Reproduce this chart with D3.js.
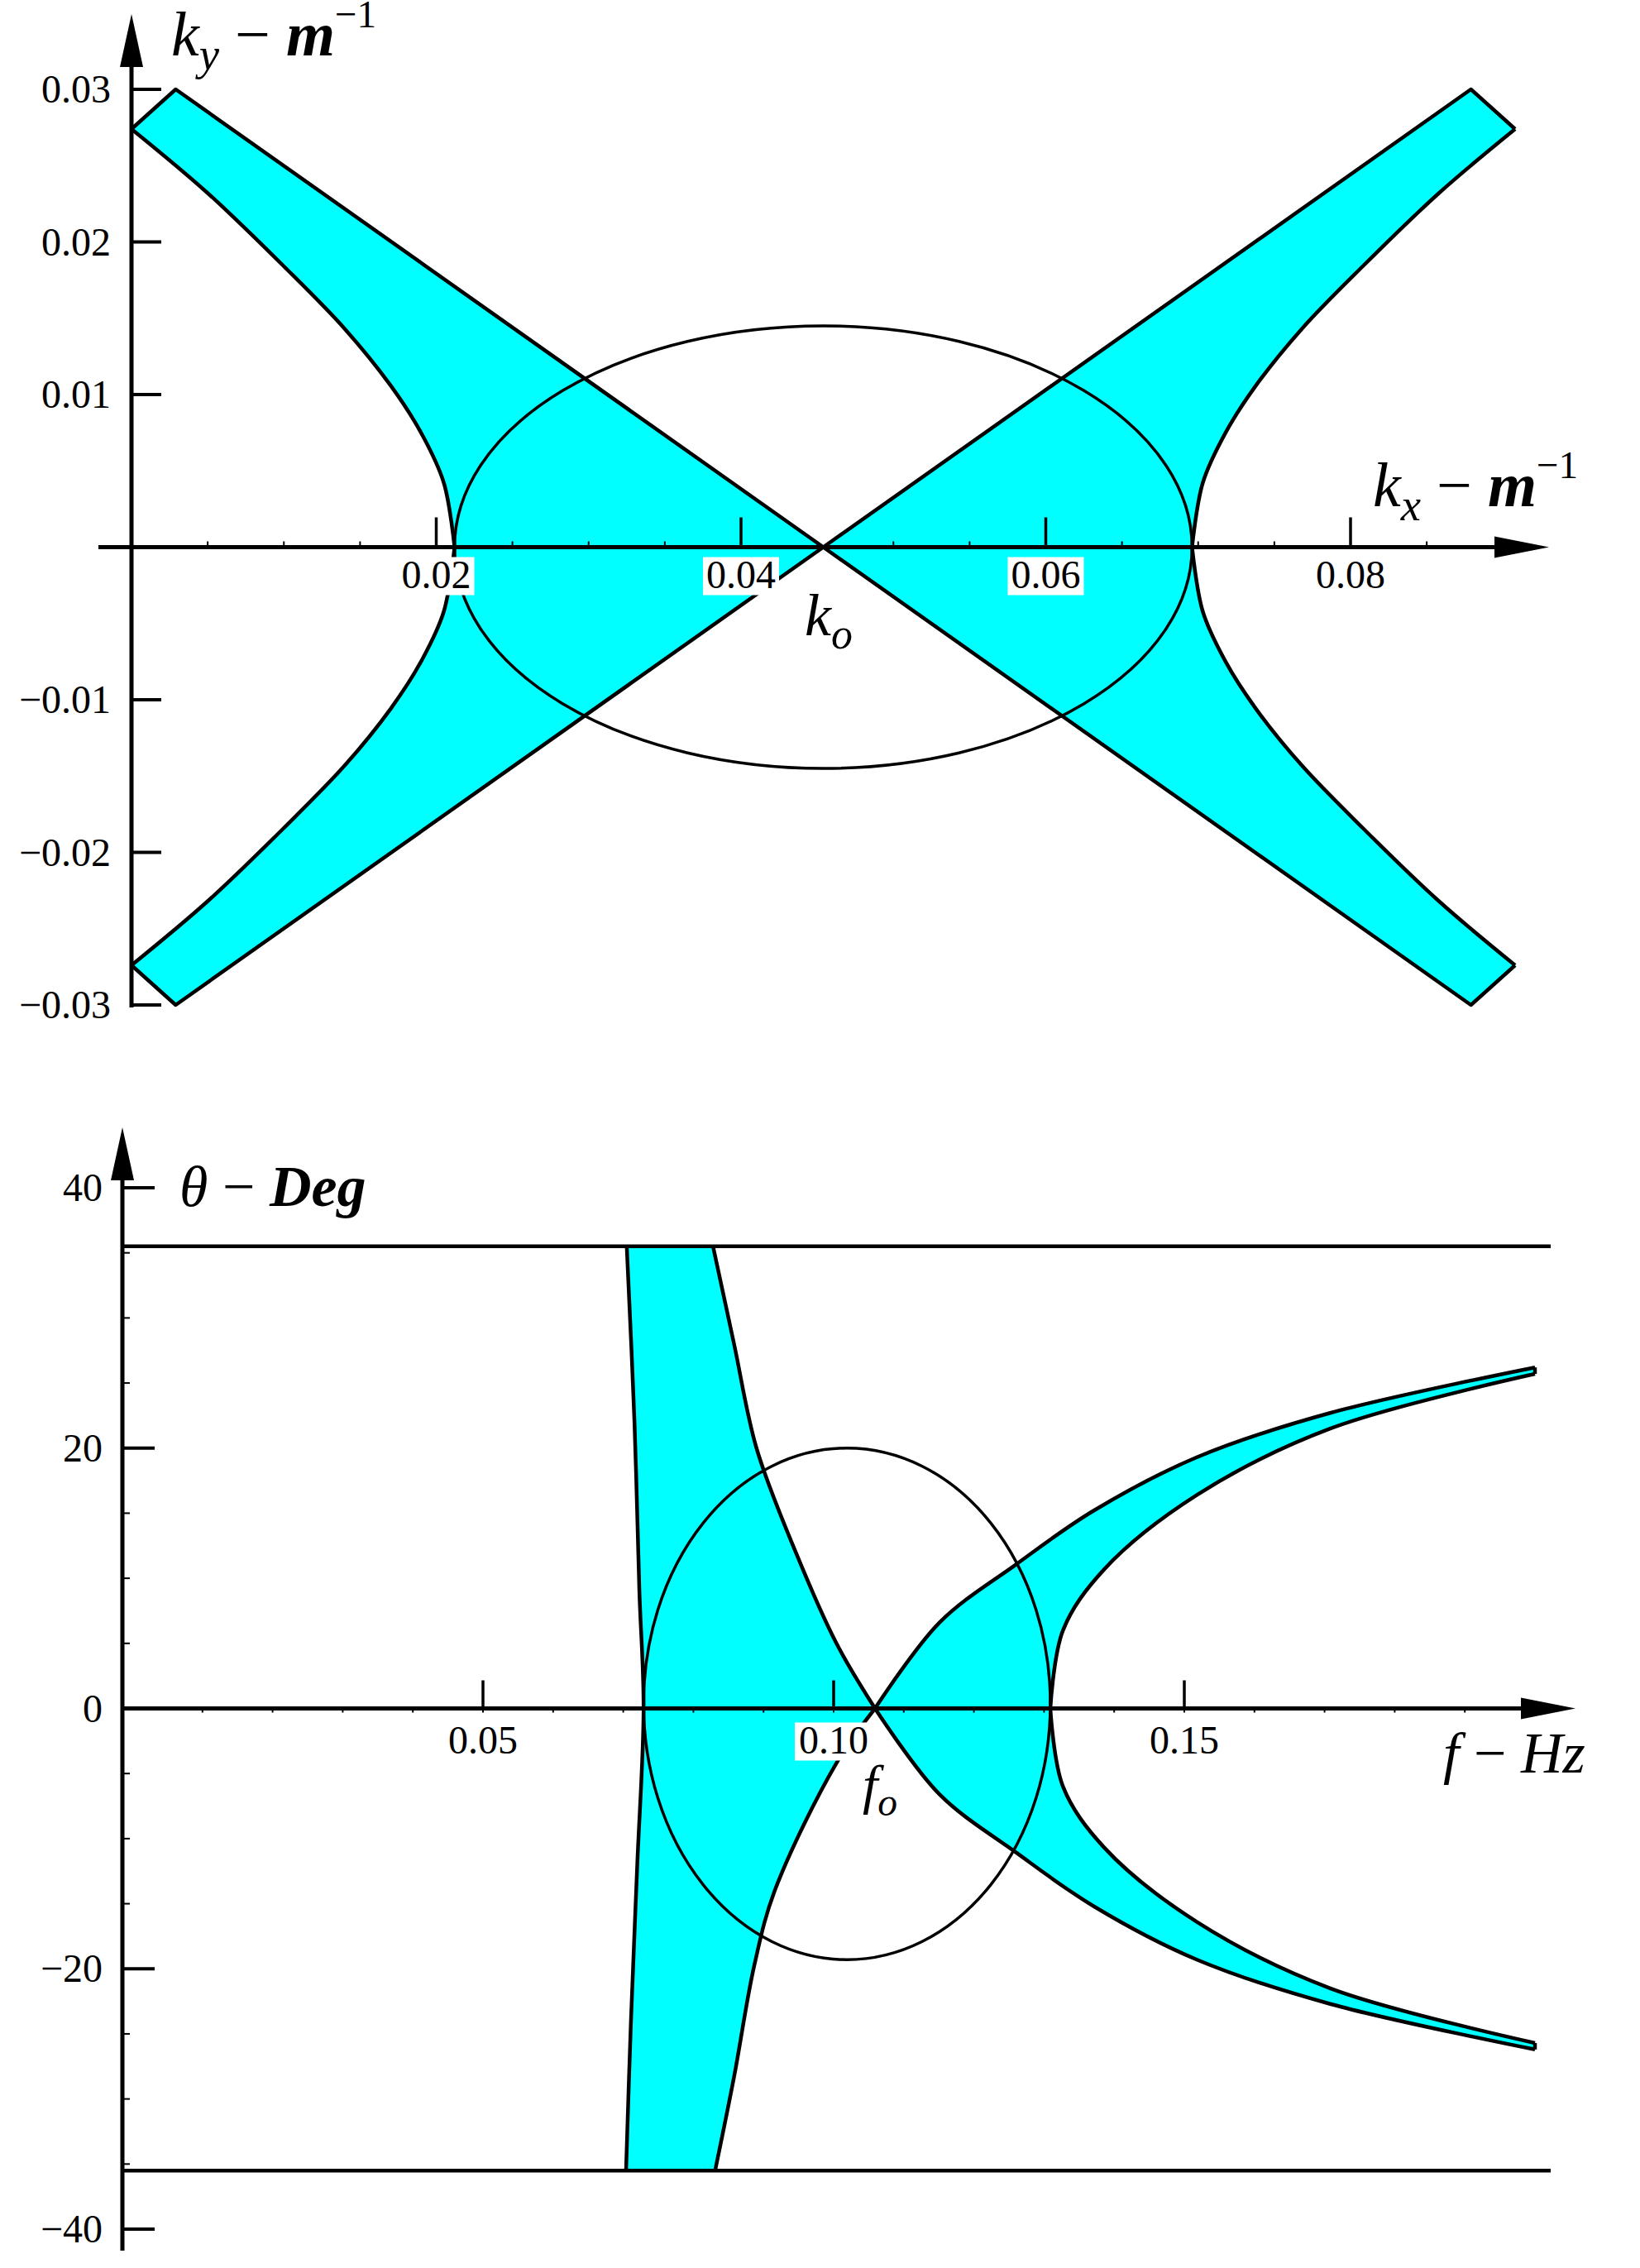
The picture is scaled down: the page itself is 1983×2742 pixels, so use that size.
<!DOCTYPE html>
<html><head><meta charset="utf-8">
<script src="https://cdn.jsdelivr.net/npm/d3@7"></script>
<style>body{margin:0;background:#fff}svg{display:block}</style>
</head><body>
<script>
// ---------- DATA (top panel: wavenumber plane) ----------
const kxTicks=[0.02,0.04,0.06,0.08];
const kyTicks=[0.03,0.02,0.01,-0.01,-0.02,-0.03];
const ko=[0.0454,0];
const capLeft=[[0.0029,0.03],[0,0.0274]];
const capRight=[[0.0879,0.03],[0.0908,0.0274]];
const hypLeftUpper=[[0,0.0274],[0.005,0.0232],[0.010,0.0184],[0.014,0.0143],[0.017,0.0106],[0.019,0.0075],[0.0205,0.0042],[0.0212,0]];
const hypRightUpper=[[0.0908,0.0274],[0.0858,0.0232],[0.0808,0.0184],[0.0768,0.0143],[0.0738,0.0106],[0.0718,0.0075],[0.0703,0.0042],[0.0696,0]];
const ellipseK={cx:0.0454,cy:0,rx:0.0242,ry:0.0145};
// ---------- DATA (bottom panel: frequency-direction) ----------
const fTicks=[0.05,0.10,0.15];
const thTicks=[40,20,0,-20,-40];
const thLimit=35.5;
const fo=[0.1059,0];
const leftOuter=[[0.0705,35.5],[0.0716,22],[0.0723,9],[0.0729,0],[0.0720,-12],[0.0711,-24],[0.0704,-35.5]];
const leftInnerUpper=[[0.0828,35.5],[0.0858,28],[0.0890,20],[0.0946,12],[0.1004,5],[0.1059,0]];
const leftInnerLower=[[0.1059,0],[0.1004,-4.2],[0.0916,-14],[0.0887,-19.7],[0.0858,-28.3],[0.0831,-35.5]];
const rightOuterUpper=[[0.1059,0],[0.1151,6.6],[0.1261,11.1],[0.1371,15.2],[0.1518,19.3],[0.1708,22.7],[0.2000,26.2]];
const rightInnerUpper=[[0.1309,0],[0.1327,6],[0.1386,10.7],[0.1518,16.4],[0.1708,21.5],[0.2000,25.7]];
const ellipseF={cx:0.1019,cy:0.35,rx:0.029,ry:19.65};

const W=1983,H=2742,CY="#00ffff",SW=4.5;
const svg=d3.select("body").append("svg").attr("width",W).attr("height",H);
const serif="Liberation Serif, DejaVu Serif, Times New Roman, serif";
const curve=d3.curveCatmullRom.alpha(0.5);

function arrowUp(g,x,y){g.append("path").attr("d",`M${x},${y} L${x-14},${y+64} L${x+14},${y+64} Z`).attr("fill","#000");}
function arrowRight(g,x,y){g.append("path").attr("d",`M${x},${y} L${x-66},${y-13} L${x-66},${y+13} Z`).attr("fill","#000");}
const neg=a=>a.map(d=>[d[0],-d[1]]);
const rev=a=>a.slice().reverse();
// sample a smooth curve path through points into a dense point list (for filling)
function smoothPts(pts,xs,ys){
  const p=document.createElementNS("http://www.w3.org/2000/svg","path");
  p.setAttribute("d",d3.line().x(d=>xs(d[0])).y(d=>ys(d[1])).curve(curve)(pts));
  svg.node().appendChild(p);const L=p.getTotalLength(),out=[];
  for(let i=0;i<=60;i++){const q=p.getPointAtLength(L*i/60);out.push([q.x,q.y]);}
  p.remove();return out;
}
function label(g,x,y,parts,size){
  const t=g.append("text").attr("x",x).attr("y",y).attr("font-family",serif).attr("font-size",size);
  let cur=0;
  parts.forEach(p=>{const s=t.append("tspan").text(p.t);
    if(p.i)s.attr("font-style","italic");if(p.b)s.attr("font-weight","bold");
    let target=0;
    if(p.sub){s.attr("font-size",size*0.72);target=size*0.22;}
    if(p.sup){s.attr("font-size",size*0.62);target=-size*0.45;}
    s.attr("dy",target-cur);cur=target;});
}

// ===== TOP =====
const x1=d3.scaleLinear().domain([0,0.08]).range([159,1633]);
const y1=d3.scaleLinear().domain([-0.03,0.03]).range([1215,108]);
const L1=d3.line().x(d=>x1(d[0])).y(d=>y1(d[1]));
const g1=svg.append("g");
const px=p=>[x1(p[0]),y1(p[1])];
function sidePoly(cap,hyp){
  const up=smoothPts(hyp,x1,y1),dn=smoothPts(neg(hyp),x1,y1);
  return [px(ko),...cap.map(px),...up,...rev(dn),...rev(neg(cap)).map(px)];
}
[sidePoly(capLeft,hypLeftUpper),sidePoly(capRight,hypRightUpper)].forEach(p=>g1.append("path").attr("d","M"+p.join("L")+"Z").attr("fill",CY));
[[ko,...capLeft],[ko,...capRight],neg([ko,...capLeft]),neg([ko,...capRight])]
 .forEach(p=>g1.append("path").attr("d",L1(p)).attr("fill","none").attr("stroke","#000").attr("stroke-width",SW).attr("stroke-linejoin","round"));
[hypLeftUpper,hypRightUpper,neg(hypLeftUpper),neg(hypRightUpper)]
 .forEach(p=>g1.append("path").attr("d",L1.curve(curve)(p)).attr("fill","none").attr("stroke","#000").attr("stroke-width",SW));
L1.curve(d3.curveLinear);
g1.append("ellipse").attr("cx",x1(ellipseK.cx)).attr("cy",y1(ellipseK.cy))
 .attr("rx",x1(ellipseK.cx+ellipseK.rx)-x1(ellipseK.cx)).attr("ry",y1(0)-y1(ellipseK.ry))
 .attr("fill","none").attr("stroke","#000").attr("stroke-width",3.5);
g1.append("line").attr("x1",119).attr("x2",1820).attr("y1",y1(0)).attr("y2",y1(0)).attr("stroke","#000").attr("stroke-width",5);
arrowRight(g1,1873,y1(0));
g1.append("line").attr("x1",x1(0)).attr("x2",x1(0)).attr("y1",y1(-0.03)+3).attr("y2",70).attr("stroke","#000").attr("stroke-width",5);
arrowUp(g1,x1(0),17);
d3.range(0.005,0.09,0.005).forEach(v=>g1.append("line").attr("x1",x1(v)).attr("x2",x1(v)).attr("y1",y1(0)).attr("y2",y1(0)-7).attr("stroke","#000").attr("stroke-width",2));
kxTicks.forEach(v=>{
  g1.append("line").attr("x1",x1(v)).attr("x2",x1(v)).attr("y1",y1(0)).attr("y2",y1(0)-36).attr("stroke","#000").attr("stroke-width",3.5);
  g1.append("rect").attr("x",x1(v)-46).attr("y",y1(0)+12).attr("width",92).attr("height",46).attr("fill","#fff");
  g1.append("text").attr("x",x1(v)).attr("y",y1(0)+49).attr("text-anchor","middle").attr("font-family",serif).attr("font-size",48).text(v.toFixed(2));
});
kyTicks.forEach(v=>{
  g1.append("line").attr("x1",x1(0)).attr("x2",x1(0)+36).attr("y1",y1(v)).attr("y2",y1(v)).attr("stroke","#000").attr("stroke-width",4);
  g1.append("text").attr("x",134).attr("y",y1(v)+16).attr("text-anchor","end").attr("font-family",serif).attr("font-size",48).text(v<0?"\u2212"+Math.abs(v).toFixed(2):v.toFixed(2));
});
label(g1,207,67,[{t:"k",i:1},{t:"y",i:1,sub:1},{t:" \u2212 "},{t:"m",i:1,b:1},{t:"\u22121",sup:1}],76);
label(g1,1660,612,[{t:"k",i:1},{t:"x",i:1,sub:1},{t:" \u2212 "},{t:"m",i:1,b:1},{t:"\u22121",sup:1}],76);
label(g1,973,768,[{t:"k",i:1},{t:"o",i:1,sub:1}],72);

// ===== BOTTOM =====
const x2=d3.scaleLinear().domain([0,0.15]).range([160,1432]);
const y2=d3.scaleLinear().domain([-40,40]).range([2695,1436]);
const L2=d3.line().x(d=>x2(d[0])).y(d=>y2(d[1])).curve(curve);
const g2=svg.append("g");
const S=a=>smoothPts(a,x2,y2);
const leftBand=[...S(leftOuter),...rev(S(leftInnerLower)),...rev(S(leftInnerUpper))];
const rightBand=[...S(rightOuterUpper),...rev(S(rightInnerUpper)),...S(neg(rightInnerUpper)),...rev(S(neg(rightOuterUpper)))];
[leftBand,rightBand].forEach(p=>g2.append("path").attr("d","M"+p.join("L")+"Z").attr("fill",CY));
[leftOuter,leftInnerUpper,leftInnerLower,rightOuterUpper,rightInnerUpper,neg(rightOuterUpper),neg(rightInnerUpper)]
 .forEach(p=>g2.append("path").attr("d",L2(p)).attr("fill","none").attr("stroke","#000").attr("stroke-width",SW));
const ends=[rightOuterUpper[rightOuterUpper.length-1],rightInnerUpper[rightInnerUpper.length-1]];
[ends,neg(ends)].forEach(p=>g2.append("path").attr("d",L2(p)).attr("fill","none").attr("stroke","#000").attr("stroke-width",SW));
g2.append("ellipse").attr("cx",x2(ellipseF.cx)).attr("cy",y2(ellipseF.cy))
 .attr("rx",x2(ellipseF.cx+ellipseF.rx)-x2(ellipseF.cx)).attr("ry",y2(0)-y2(ellipseF.ry))
 .attr("fill","none").attr("stroke","#000").attr("stroke-width",3.5);
[thLimit,-thLimit].forEach(v=>g2.append("line").attr("x1",148).attr("x2",1875).attr("y1",y2(v)).attr("y2",y2(v)).attr("stroke","#000").attr("stroke-width",4.5));
g2.append("line").attr("x1",148).attr("x2",1850).attr("y1",y2(0)).attr("y2",y2(0)).attr("stroke","#000").attr("stroke-width",5);
arrowRight(g2,1905,y2(0));
g2.append("line").attr("x1",148).attr("x2",148).attr("y1",2721).attr("y2",1420).attr("stroke","#000").attr("stroke-width",5);
arrowUp(g2,148,1363);
d3.range(-35,40,5).filter(v=>v%20!==0).forEach(v=>g2.append("line").attr("x1",148).attr("x2",157).attr("y1",y2(v)).attr("y2",y2(v)).attr("stroke","#000").attr("stroke-width",2));
d3.range(0.01,0.21,0.01).forEach(v=>g2.append("line").attr("x1",x2(v)).attr("x2",x2(v)).attr("y1",y2(0)).attr("y2",y2(0)+5).attr("stroke","#000").attr("stroke-width",2));
fTicks.forEach(v=>{
  g2.append("line").attr("x1",x2(v)).attr("x2",x2(v)).attr("y1",y2(0)).attr("y2",y2(0)-34).attr("stroke","#000").attr("stroke-width",3.5);
  g2.append("rect").attr("x",x2(v)-47).attr("y",y2(0)+17).attr("width",94).attr("height",46).attr("fill","#fff");
  g2.append("text").attr("x",x2(v)).attr("y",y2(0)+54).attr("text-anchor","middle").attr("font-family",serif).attr("font-size",48).text(v.toFixed(2));
});
thTicks.forEach(v=>{
  g2.append("line").attr("x1",148).attr("x2",187).attr("y1",y2(v)).attr("y2",y2(v)).attr("stroke","#000").attr("stroke-width",4);
  g2.append("text").attr("x",124).attr("y",y2(v)+16).attr("text-anchor","end").attr("font-family",serif).attr("font-size",48).text(v<0?"\u2212"+Math.abs(v):v);
});
label(g2,217,1458,[{t:"\u03b8",i:1},{t:" \u2212 "},{t:"Deg",i:1,b:1}],70);
label(g2,1745,2143,[{t:"f",i:1},{t:" \u2212 "},{t:"Hz",i:1}],70);
label(g2,1043,2180,[{t:"f",i:1},{t:"o",i:1,sub:1}],66);
</script>
</body></html>
